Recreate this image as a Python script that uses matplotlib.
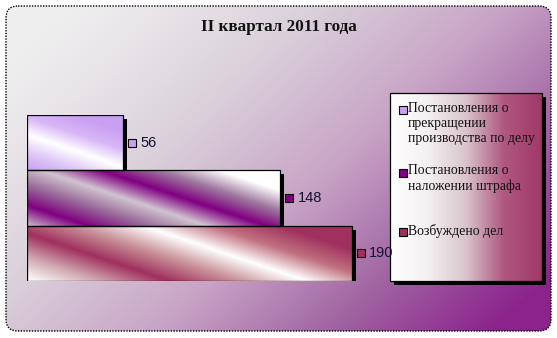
import numpy as np
import matplotlib.pyplot as plt
from matplotlib.colors import LinearSegmentedColormap
from matplotlib.patches import FancyBboxPatch, Rectangle
from matplotlib.transforms import ScaledTranslation

title = 'II квартал 2011 года'
labels = ['Постановления о\nпрекращении\nпроизводства по делу',
          'Постановления о\nналожении штрафа',
          'Возбуждено дел']
values = [56, 148, 190]
bar_colors = ['#c9a0f2', '#800080', '#a0305e']

# диагональные "переливы" для каждого столбика
bar_cmaps = [
    ['#c9a0f2', '#e0c8f8', '#ffffff', '#d8b8f6', '#c9a0f2', '#c9a0f2'],
    ['#c8b8c8', '#800080', '#9a6a9a', '#d0c4d0', '#800080', '#a07aa0', '#ffffff', '#ffffff'],
    ['#ffffff', '#d0a8b0', '#a0305e', '#c89098', '#ffffff', '#c07080', '#a0305e', '#a0305e'],
]

W, H = 557, 338
fig = plt.figure(figsize=(W / 100, H / 100), dpi=100)
fig.patch.set_facecolor('white')

# фон диаграммы
bg = fig.add_axes([0, 0, 1, 1])
bg.set_xlim(0, W)
bg.set_ylim(H, 0)
bg.axis('off')
yy, xx = np.mgrid[0:1:200j, 0:1:300j]
t = np.clip(0.7 * xx + 0.45 * yy - 0.08, 0, 1) ** 1.2
bg_cmap = LinearSegmentedColormap.from_list('bg', ['#efeeef', '#dad0da', '#c8a4c6', '#a064a2', '#8c228c'])
frame = FancyBboxPatch((6, 6), W - 12, H - 13, boxstyle='round,pad=0,rounding_size=12',
                       facecolor='none', edgecolor='black', lw=1.0, linestyle=(0, (1, 1)), zorder=3)
bg.add_patch(frame)
im = bg.imshow(t, cmap=bg_cmap, extent=(6, W - 6, H - 7, 6), aspect='auto', zorder=1)
im.set_clip_path(frame)

fig.text(0.5, 1 - 27 / H, title, ha='center', va='center', fontsize=12.3, fontweight='bold',
         family='Liberation Serif', color='#111111')

# основная область с полосами
px = 325 / 190
x0, x1 = 27, 380
ax = fig.add_axes([x0 / W, (H - 281) / H, (x1 - x0) / W, 166 / H])
ax.set_xlim(0, (x1 - x0) / px)
ax.set_ylim(-0.5, 2.5)
ax.invert_yaxis()
ax.axis('off')
ax.patch.set_alpha(0)

ypos = np.arange(len(values))
shadow = ax.transData + ScaledTranslation(4 / 100, -4 / 100, fig.dpi_scale_trans)
ax.barh(ypos, values, height=1.0, color='black', transform=shadow, zorder=1)
bars = ax.barh(ypos, values, height=1.0, color=bar_colors, edgecolor='black', lw=0.9, zorder=3)

for i, (b, v) in enumerate(zip(bars, values)):
    cm = LinearSegmentedColormap.from_list(f'c{i}', bar_cmaps[i])
    gy, gx = np.mgrid[0:1:60j, 0:1:200j]
    a, c = v / 60, 1.6
    g = (gx * a - gy * c + c) / (a + c)
    gim = ax.imshow(g, cmap=cm, extent=(0, v, ypos[i] + 0.5, ypos[i] - 0.5),
                    aspect='auto', zorder=4, interpolation='bilinear')
    gim.set_clip_path(b)
    b.set_facecolor('none')
    b.set_zorder(5)
    ax.plot([v], [ypos[i]], marker='s', ms=5.5, mfc=bar_colors[i], mec='black', mew=0.8,
            transform=ax.transData + ScaledTranslation(9 / 100, 0, fig.dpi_scale_trans),
            clip_on=False, zorder=6)
    ax.annotate(str(v), (v, ypos[i]), xytext=(12.5, 0), textcoords='offset points',
                ha='left', va='center', fontsize=10.5, color='#111133',
                family='Liberation Sans', annotation_clip=False)

# легенда
lx0, lx1, ly0, ly1 = 390, 542, 93, 281
lsh = Rectangle((lx0 + 4, ly0 + 4), lx1 - lx0, ly1 - ly0, facecolor='black', zorder=4)
bg.add_patch(lsh)
lbox = Rectangle((lx0, ly0), lx1 - lx0, ly1 - ly0, facecolor='none', edgecolor='black', lw=0.9, zorder=6)
bg.add_patch(lbox)
lg = np.tile(np.linspace(0, 1, 200), (20, 1))
leg_cmap = LinearSegmentedColormap.from_list('leg', ['#ffffff', '#f4f0f2', '#d8c4cc', '#b05880', '#a03868'])
lim = bg.imshow(lg, cmap=leg_cmap, extent=(lx0, lx1, ly1, ly0), aspect='auto', zorder=5)
lim.set_clip_path(lbox)

centers = [125, 180, 232]
for lab, col, cy in zip(labels, bar_colors, centers):
    nl = lab.count('\n') + 1
    ty = cy - (nl - 1) * 15 / 2
    bg.plot([403], [ty], marker='s', ms=5.5, mfc=col, mec='black', mew=0.8, zorder=7)
    bg.text(408, ty - 8, lab, ha='left', va='top', fontsize=9.9, family='Liberation Serif',
            color='#111111', linespacing=1.2, zorder=7)

fig.savefig('out.png', dpi=100)
